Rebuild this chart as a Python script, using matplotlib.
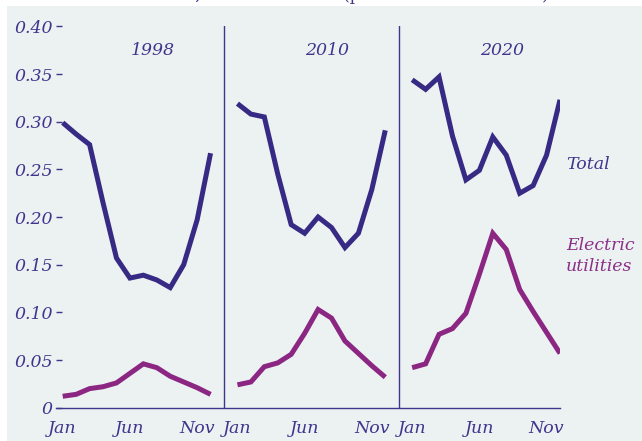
import numpy as np
import matplotlib
matplotlib.use("Agg")
import matplotlib.pyplot as plt
from matplotlib.patches import Rectangle

# Values (share of annual total, by month)
months = ["Jan", "Feb", "Mar", "Apr", "May", "Jun",
          "Jul", "Aug", "Sep", "Oct", "Nov", "Dec"]
years = ["1998", "2010", "2020"]

total_1998 = [0.299, 0.287, 0.276, 0.215, 0.157, 0.136,
              0.139, 0.134, 0.126, 0.150, 0.197, 0.267]
total_2010 = [0.319, 0.308, 0.305, 0.245, 0.192, 0.183,
              0.200, 0.189, 0.168, 0.183, 0.229, 0.291]
total_2020 = [0.344, 0.334, 0.347, 0.285, 0.239, 0.249,
              0.284, 0.265, 0.225, 0.233, 0.265, 0.323]

electric_1998 = [0.012, 0.014, 0.020, 0.022, 0.026, 0.036,
                 0.046, 0.042, 0.033, 0.027, 0.021, 0.014]
electric_2010 = [0.024, 0.027, 0.043, 0.047, 0.056, 0.078,
                 0.103, 0.094, 0.070, 0.057, 0.044, 0.032]
electric_2020 = [0.042, 0.046, 0.077, 0.083, 0.099, 0.140,
                 0.183, 0.166, 0.124, 0.101, 0.079, 0.057]

tick_months = ["Jan", "Jun", "Nov"]
y_ticks = [0, 0.05, 0.10, 0.15, 0.20, 0.25, 0.30, 0.35, 0.40]
y_labels = ["0", "0.05", "0.10", "0.15", "0.20", "0.25", "0.30", "0.35", "0.40"]

totals = [total_1998, total_2010, total_2020]
electrics = [electric_1998, electric_2010, electric_2020]

# colours
bg = "#ecf1f1"
c_total = "#372a84"
c_elec = "#8b2683"
c_text = "#40358d"
c_elec_text = "#8b2f87"

plt.rcParams["font.family"] = "DejaVu Serif"
plt.rcParams["font.style"] = "italic"

fig = plt.figure(figsize=(6.42, 4.41), dpi=100, facecolor="white")
# light panel behind everything, leaving a thin white strip top/left
fig.patches.append(Rectangle((7 / 642, 0), 1, 435 / 441, transform=fig.transFigure,
                             facecolor=bg, edgecolor="none", zorder=-10))

ax = fig.add_axes([56 / 642, 33.3 / 441, 504 / 642, 381.3 / 441])
ax.set_facecolor("none")

gap = 13  # 12 months + one empty slot between panels
for p in range(len(years)):
    x = np.arange(len(months)) + gap * p
    ax.plot(x, totals[p], color=c_total, lw=3.6,
            solid_joinstyle="miter", solid_capstyle="butt")
    ax.plot(x, electrics[p], color=c_elec, lw=3.6,
            solid_joinstyle="miter", solid_capstyle="butt")
    ax.text(gap * p + 6.7, 0.375, years[p], color=c_text, fontsize=12.5,
            ha="center", va="center")
    if p > 0:
        ax.axvline(gap * p - 1, color=c_text, lw=1.0)

ax.set_xlim(-0.5, 37)
ax.set_ylim(0, 0.40)

xt = []
xl = []
for p in range(len(years)):
    for m in tick_months:
        xt.append(gap * p + months.index(m))
        xl.append(m)
ax.set_xticks(xt)
ax.set_xticklabels(xl)
ax.set_yticks(y_ticks)
ax.set_yticklabels(y_labels)

for s in ["top", "right", "left"]:
    ax.spines[s].set_visible(False)
ax.spines["bottom"].set_color(c_text)
ax.spines["bottom"].set_linewidth(1.0)

ax.tick_params(axis="x", length=0, pad=9, labelsize=12.5, labelcolor=c_text)
ax.tick_params(axis="y", direction="in", length=4.5, width=1.0, color=c_text,
               pad=2.5, labelsize=12.5, labelcolor=c_text)

# series labels on the right
ax.text(37.45, 0.2547, "Total", color=c_text, fontsize=12.5,
        ha="left", va="center", clip_on=False)
ax.text(37.45, 0.1587, "Electric\nutilities", color=c_elec_text, fontsize=12.5,
        ha="left", va="center", linespacing=1.3, clip_on=False)

# title sits above the canvas in the reference, only its descenders show
fig.text(549 / 642, 441.5 / 441, "Methane demand, seasonal trends (percent of annual total)",
         color=c_text, fontsize=12, fontstyle="normal", ha="right", va="baseline")

fig.savefig("out.png", dpi=100, facecolor="white")
